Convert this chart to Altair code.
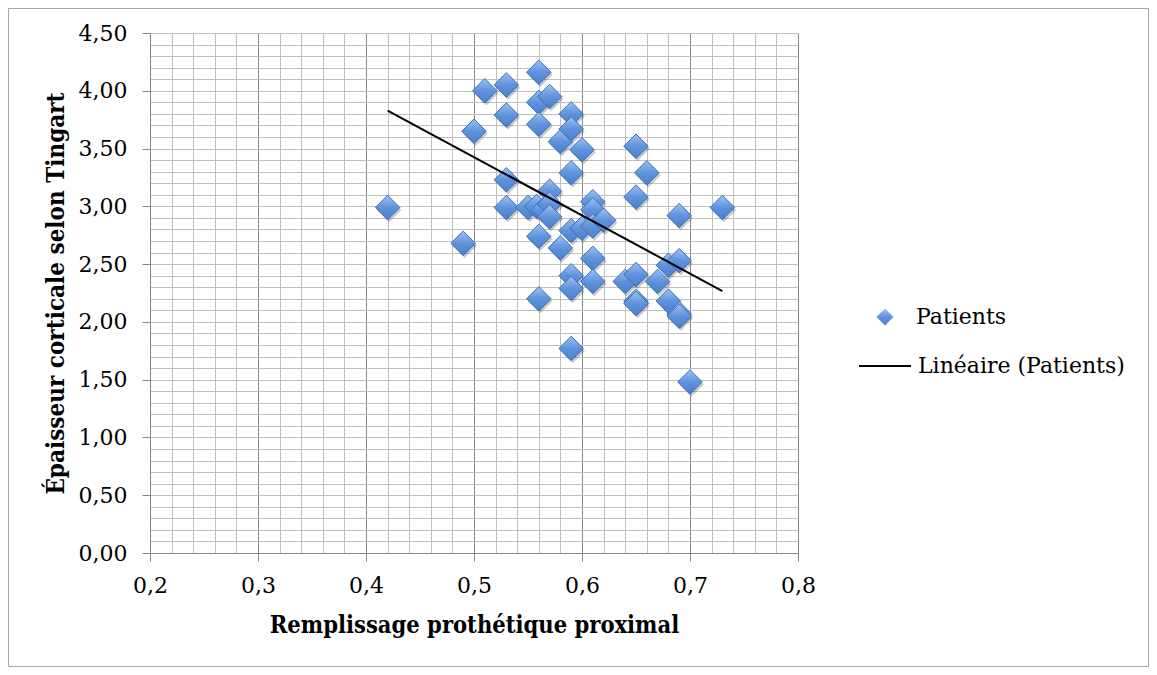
import altair as alt
import pandas as pd

# --- data ---
remplissage = [0.42, 0.49, 0.50, 0.51, 0.53, 0.53, 0.53, 0.53, 0.55, 0.558,
               0.564, 0.56, 0.56, 0.56, 0.56, 0.56, 0.57, 0.57, 0.57, 0.57,
               0.58, 0.58, 0.59, 0.59, 0.59, 0.59, 0.59, 0.59, 0.59, 0.60,
               0.60, 0.61, 0.61, 0.61, 0.61, 0.61, 0.62, 0.64, 0.65, 0.65,
               0.65, 0.65, 0.65, 0.66, 0.67, 0.68, 0.68, 0.69, 0.69, 0.69,
               0.69, 0.70, 0.73]
epaisseur = [2.99, 2.68, 3.65, 4.00, 4.05, 3.79, 3.23, 2.99, 2.99, 3.00,
             2.97, 4.16, 3.90, 3.71, 2.74, 2.20, 3.95, 3.13, 3.02, 2.91,
             3.56, 2.64, 3.80, 3.67, 3.29, 2.79, 2.40, 2.29, 1.77, 3.49,
             2.81, 3.04, 2.97, 2.83, 2.55, 2.35, 2.88, 2.35, 3.52, 3.08,
             2.41, 2.18, 2.16, 3.29, 2.35, 2.49, 2.18, 2.92, 2.53, 2.07,
             2.05, 1.48, 2.99]
serie = "Patients"
tendance = "Linéaire (Patients)"
x_title = "Remplissage prothétique proximal"
y_title = "Épaisseur corticale selon Tingart"
x_ticks = [round(0.2 + 0.02 * i, 2) for i in range(31)]
y_ticks = [round(0.1 * i, 1) for i in range(46)]

df = pd.DataFrame({"x": remplissage, "y": epaisseur, "serie": [serie] * len(remplissage)})

FONT = "DejaVu Serif"
TFONT = "DejaVu Serif Condensed, DejaVu Serif"
MAJOR = "#878787"
MINOR = "#C0C0C0"

major_x = "abs(datum.value*10 - round(datum.value*10)) < 0.001"
major_y = "abs(datum.value*2 - round(datum.value*2)) < 0.001"

x_enc = alt.X(
    "x:Q",
    scale=alt.Scale(domain=[0.2, 0.8], nice=False, zero=False),
    axis=alt.Axis(
        values=x_ticks,
        title=x_title,
        labelExpr=f"({major_x}) ? replace(format(datum.value, '.1f'), '.', ',') : ''",
        labelOverlap=False,
        labelFlush=False,
        labelBound=False,
        labelFont=FONT,
        labelFontSize=22,
        labelColor="black",
        labelPadding=14,
        tickSize=8,
        tickColor=alt.condition(major_x, alt.value(MAJOR), alt.value("transparent")),
        gridColor=alt.condition(major_x, alt.value(MAJOR), alt.value(MINOR)),
        gridWidth=1,
        grid=True,
        domainColor=MAJOR,
        titleFont=TFONT,
        titleFontSize=23.5,
        titleFontWeight="bold",
        titleColor="black",
        titlePadding=17,
    ),
)
y_enc = alt.Y(
    "y:Q",
    scale=alt.Scale(domain=[0, 4.5], nice=False, zero=False),
    axis=alt.Axis(
        values=y_ticks,
        title=y_title,
        labelExpr=f"({major_y}) ? replace(format(datum.value, '.2f'), '.', ',') : ''",
        labelOverlap=False,
        labelFlush=False,
        labelBound=False,
        labelFont=FONT,
        labelFontSize=22,
        labelColor="black",
        labelPadding=15,
        tickSize=8,
        tickColor=alt.condition(major_y, alt.value(MAJOR), alt.value("transparent")),
        gridColor=MINOR,
        gridWidth=1,
        grid=True,
        domainColor=MAJOR,
        titleFont=TFONT,
        titleFontSize=24,
        titleFontWeight="bold",
        titleColor="black",
        titlePadding=10,
    ),
)

border = alt.Chart(pd.DataFrame({"b": [0]})).mark_rect(
    fill="white", fillOpacity=0, stroke="#A6A6A6", strokeWidth=1
).encode(
    x=alt.value(-141.5), x2=alt.value(998.5), y=alt.value(-24.5), y2=alt.value(633.5)
)

grad = alt.LinearGradient(
    gradient="linear",
    stops=[
        alt.GradientStop(color="#9CC2F5", offset=0),
        alt.GradientStop(color="#5F93DC", offset=0.5),
        alt.GradientStop(color="#4A7FCB", offset=1),
    ],
    x1=0, x2=0, y1=0, y2=1,
)

shadow = alt.Chart(df).mark_point(
    filled=True, size=600, shape="diamond", fill="#404040", opacity=0.28,
    xOffset=1.5, yOffset=2.5
).encode(x=x_enc, y=y_enc)

points = alt.Chart(df).mark_point(
    filled=True, size=600, fill=grad, stroke="#3F6DB5", strokeWidth=1, opacity=1
).encode(
    x=x_enc,
    y=y_enc,
    shape=alt.Shape(
        "serie:N",
        scale=alt.Scale(domain=[serie], range=["diamond"]),
        legend=alt.Legend(
            title=None,
            orient="none",
            legendX=724,
            legendY=273,
            padding=0,
            symbolSize=289,
            symbolFillColor="#5F93DC",
            symbolStrokeColor="#3F6DB5",
            symbolStrokeWidth=1,
            labelFont=FONT,
            labelFontSize=22,
            labelColor="black",
            labelOffset=20,
            labelLimit=300,
        ),
    ),
)

trend = alt.Chart(df).transform_regression("x", "y").transform_calculate(
    courbe=f"'{tendance}'"
).mark_line(strokeWidth=2).encode(
    x=x_enc,
    y=y_enc,
    stroke=alt.Stroke(
        "courbe:N",
        scale=alt.Scale(domain=[tendance], range=["black"]),
        legend=alt.Legend(
            title=None,
            orient="none",
            legendX=708,
            legendY=306,
            padding=0,
            symbolType="stroke",
            symbolSize=2704,
            symbolStrokeWidth=2,
            labelFont=FONT,
            labelFontSize=22,
            labelColor="black",
            labelOffset=6,
            labelLimit=300,
        ),
    ),
)

chart = alt.layer(border, shadow, points, trend).properties(
    width=648,
    height=520,
    autosize=alt.AutoSizeParams(type="none"),
    padding={"left": 142, "top": 25, "right": 351, "bottom": 114},
    background="white",
).configure_view(stroke="transparent")

chart.save("out.html", embed_options={"renderer": "svg", "actions": False})
